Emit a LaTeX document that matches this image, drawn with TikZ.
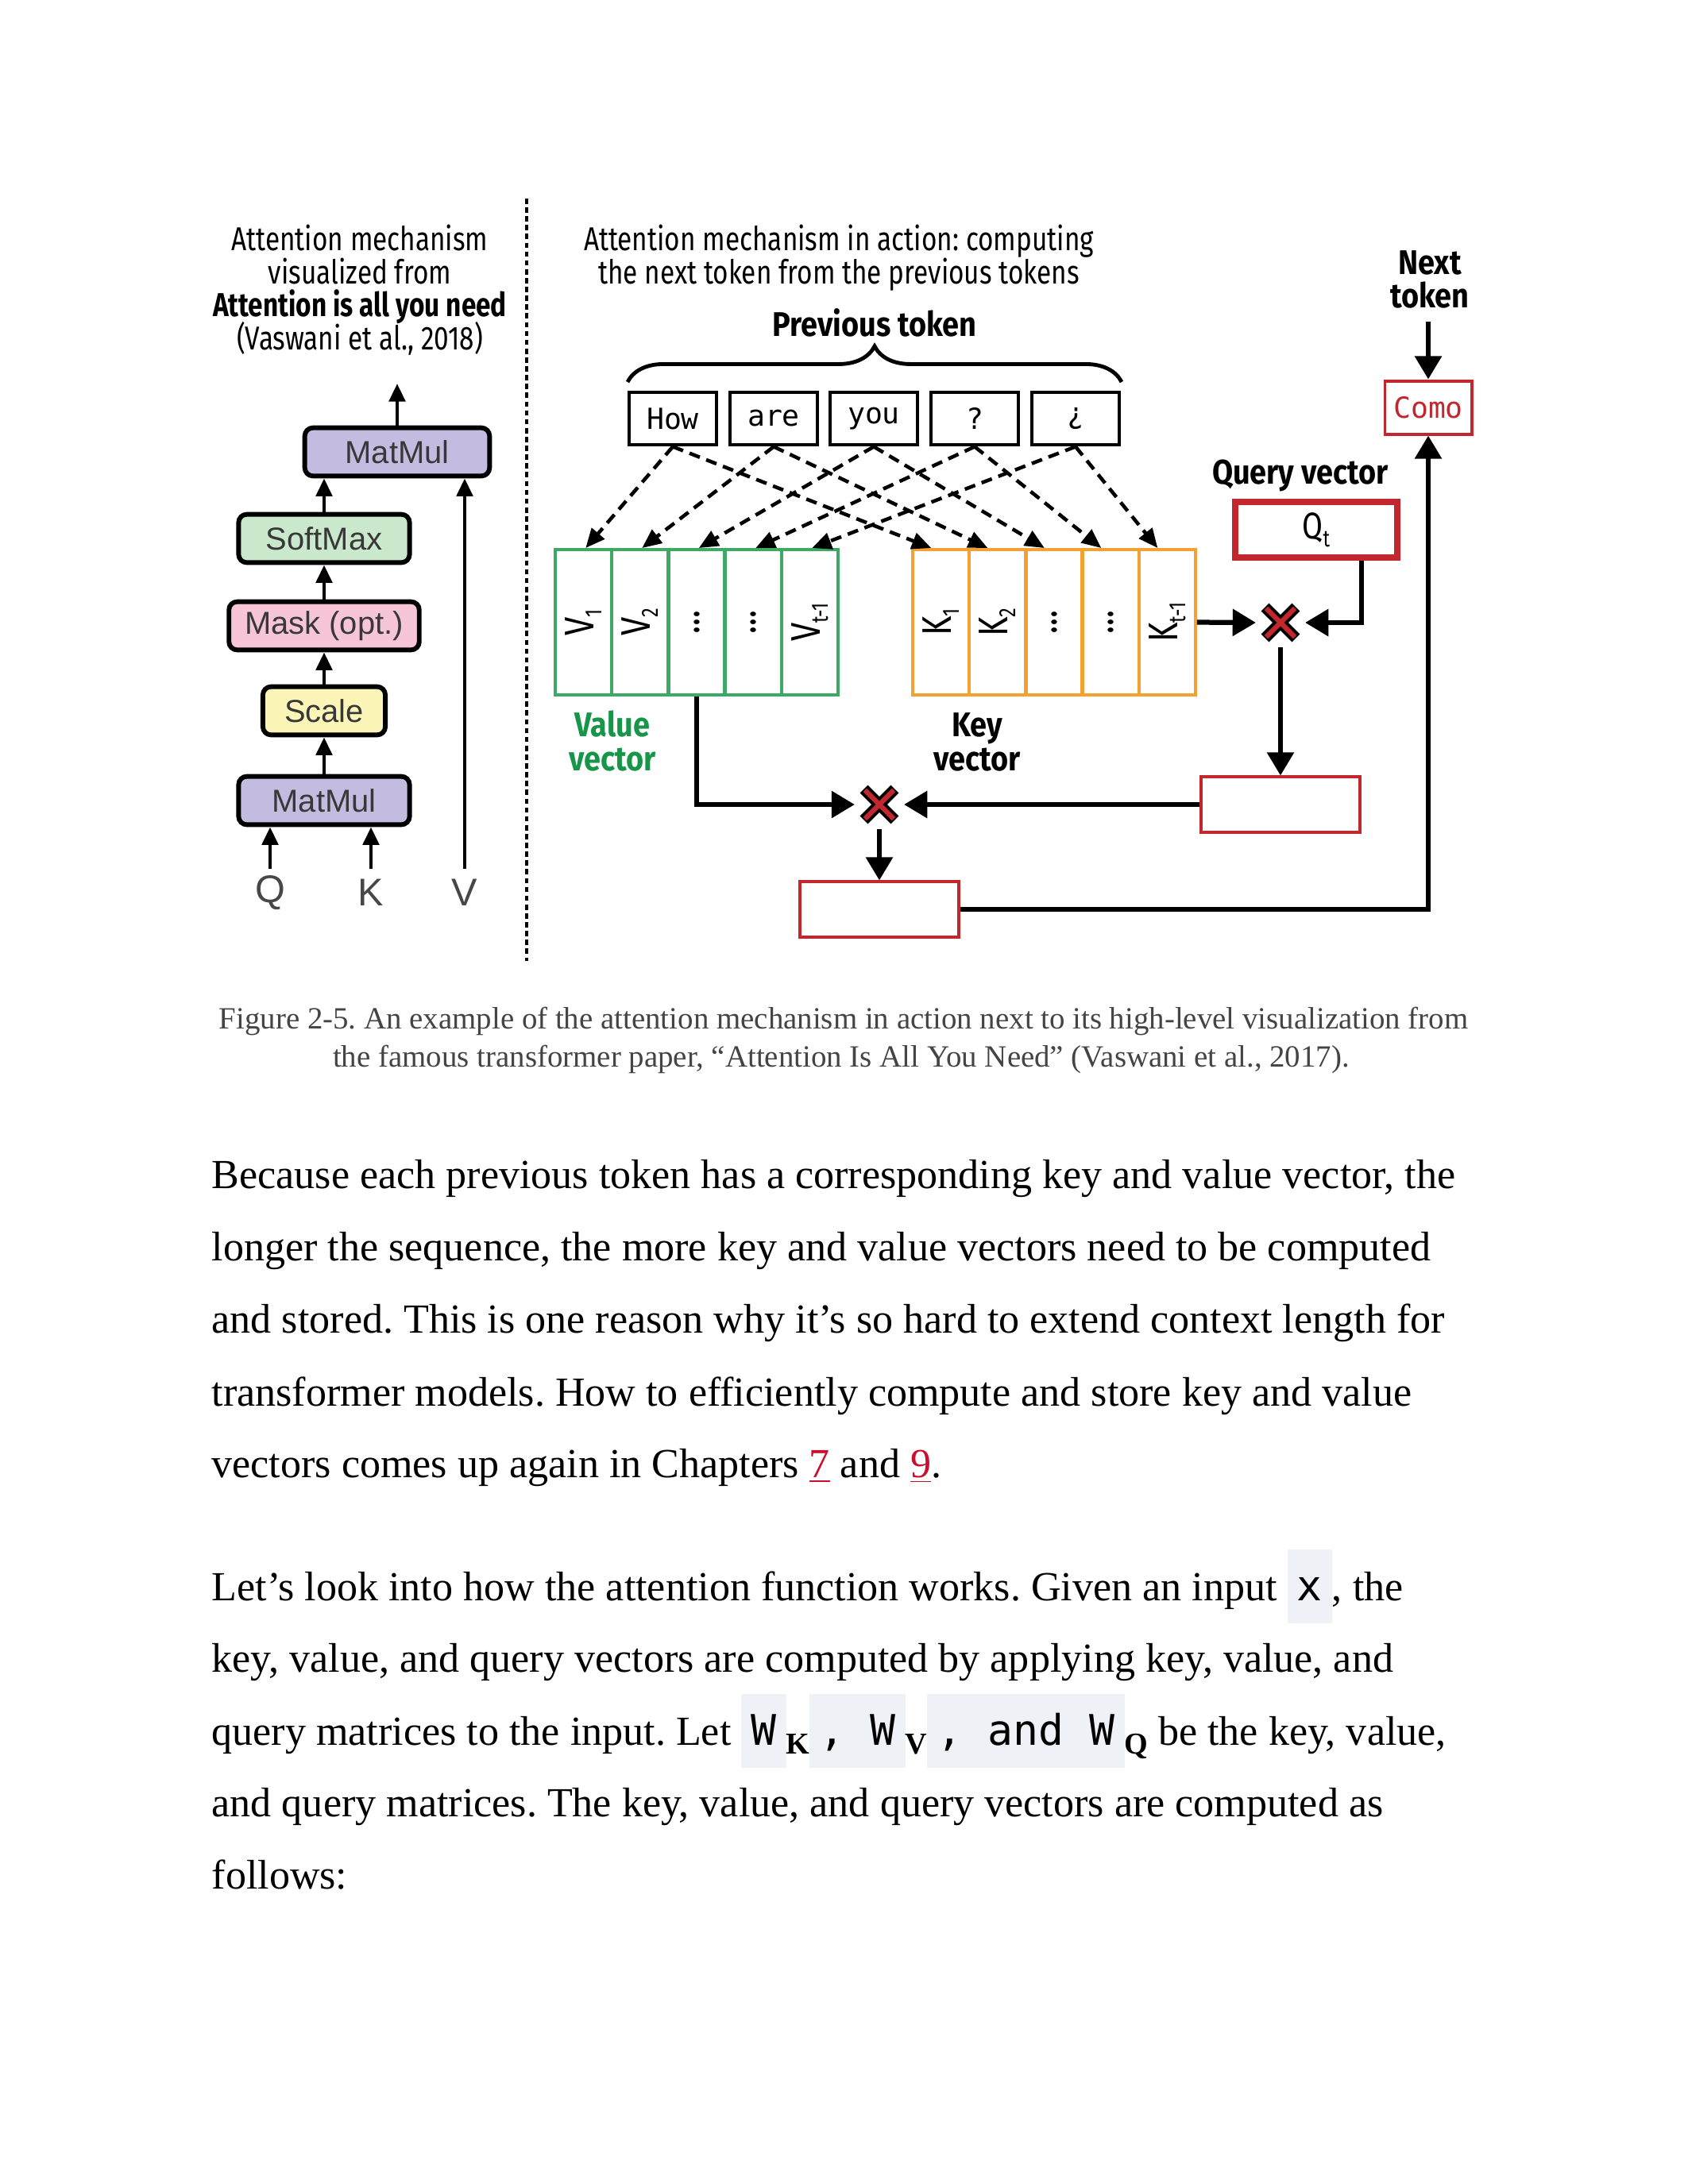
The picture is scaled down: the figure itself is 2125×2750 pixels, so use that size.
\documentclass[tikz,border=0pt]{standalone}
\usepackage{fontspec}
\setmainfont{Liberation Serif}
\newfontfamily\cond{Fira Sans}[FakeStretch=0.8]
\newfontfamily\condB{Fira Sans}[FakeStretch=0.88]
\newfontfamily\helv{Liberation Sans}
\newfontfamily\mono{DejaVu Sans Mono}
\usetikzlibrary{arrows.meta,decorations.pathreplacing,calc}
\frenchspacing
\definecolor{redc}{HTML}{C1272D}
\definecolor{greenc}{HTML}{3CA964}
\definecolor{greent}{HTML}{17964A}
\definecolor{orangec}{HTML}{F5A033}
\definecolor{lav}{HTML}{C4BCE0}
\definecolor{mint}{HTML}{C9E8CC}
\definecolor{pinkc}{HTML}{F6C5D8}
\definecolor{yel}{HTML}{FBF5B8}
\definecolor{codebg}{HTML}{EEF1F5}
\definecolor{linkred}{HTML}{C8102E}
\definecolor{capgray}{HTML}{444444}
\newcommand{\cbox}[1]{{\setlength{\fboxsep}{0pt}\colorbox{codebg}{\rule[-8.3pt]{0pt}{26.7pt}\hspace{3.5pt}{\mono\fontsize{15.3}{18}\selectfont #1}\hspace{3.5pt}}}}
\newcommand{\sbx}[1]{\raisebox{-3.2pt}{\bfseries\fontsize{11}{11}\selectfont #1}}
\newcommand{\csub}[1]{\raisebox{-3pt}{\fontsize{8.5}{8.5}\selectfont #1}}
\newcommand{\lnk}[1]{\textcolor{linkred}{\underline{#1}}}
\tikzset{
 lbox/.style={draw=black, line width=1.7pt, rounded corners=3pt, inner sep=0pt, minimum height=17.5pt, font=\helv\fontsize{11.5}{12}\selectfont, text=black!78},
 larrow/.style={line width=1.4pt, -{Triangle[length=6.5pt,width=5.8pt]}},
 ttl/.style={font=\cond\fontsize{12}{12}\selectfont, anchor=base, inner sep=0pt},
 blab/.style={font=\condB\bfseries\fontsize{12.4}{12.4}\selectfont, anchor=base, inner sep=0pt},
 qkv/.style={font=\helv\fontsize{14}{14}\selectfont, text=black!72, inner sep=0pt},
 tok/.style={draw=black, line width=1.2pt, minimum width=31.6pt, minimum height=19.2pt, inner sep=0pt, font=\mono\fontsize{10.5}{10.5}\selectfont},
 vcell/.style={draw=greenc, line width=1.15pt, minimum width=20.4pt, minimum height=52.7pt, inner sep=0pt},
 kcell/.style={draw=orangec, line width=1.15pt, minimum width=20.4pt, minimum height=52.7pt, inner sep=0pt},
 celltxt/.style={rotate=90, font=\cond\fontsize{15}{15}\selectfont, inner sep=0pt},
 dashar/.style={line width=1.3pt, dash pattern=on 4pt off 2.5pt, -{Triangle[length=7pt,width=6pt]}},
 conn/.style={line width=1.8pt, -{Triangle[length=8.4pt,width=9.5pt]}},
 rbox/.style={draw=redc, line width=1.15pt, minimum width=57.6pt, minimum height=19.9pt, inner sep=0pt},
 xmark/.style={minimum size=17.5pt, inner sep=0pt},
 xblack/.style={line width=4pt},
 xred/.style={line width=1.8pt, draw=redc},
 bodytxt/.style={anchor=base west, inner sep=0pt, font=\fontsize{15}{15}\selectfont},
 captxt/.style={anchor=base, inner sep=0pt, font=\fontsize{11.2}{11.2}\selectfont, text=capgray},
}
\begin{document}
\begin{tikzpicture}[x=0.288pt,y=-0.288pt]
\useasboundingbox (0,0) rectangle (2125,2750);
\fill[white] (0,0) rectangle (2125,2750);

% ---------- left panel ----------
\node[ttl] (lt1) at (453,315) {Attention mechanism};
\node[ttl] (lt2) at (453,357) {visualized from};
\node[ttl, font=\cond\bfseries\fontsize{12}{12}\selectfont] (lt3) at (453,398) {Attention is all you need};
\node[ttl] (lt4) at (453,440) {(Vaswani et al., 2018)};

\node[lbox, fill=lav, minimum width=67pt] (mm2) at (500,569) {MatMul};
\node[lbox, fill=mint, minimum width=62pt] (soft) at (408,678) {SoftMax};
\node[lbox, fill=pinkc, minimum width=69pt] (mask) at (408,788) {Mask (opt.)};
\node[lbox, fill=yel, minimum width=44.4pt] (scl) at (408,895) {Scale};
\node[lbox, fill=lav, minimum width=62pt] (mm1) at (408,1008) {MatMul};

\draw[larrow] (mm1.north) -- (scl.south);
\draw[larrow] (scl.north) -- (mask.south);
\draw[larrow] (mask.north) -- (soft.south);
\draw[larrow] (soft.north) -- (soft.north |- mm2.south);
\coordinate (topout) at (500,483);
\draw[larrow] (mm2.north) -- (topout);

\node[qkv] (lq) at (340,1124) {Q};
\node[qkv] (lk) at (467,1124) {K};
\node[qkv] (lv) at (585,1124) {V};
\coordinate (qs) at (340,1094);
\coordinate (ks) at (467,1094);
\coordinate (vs) at (585,1094);
\draw[larrow] (qs) -- (qs |- mm1.south);
\draw[larrow] (ks) -- (ks |- mm1.south);
\draw[larrow] (vs) -- (vs |- mm2.south);

\coordinate (dt) at (663,250);
\coordinate (db) at (663,1210);
\draw[line width=1pt, dash pattern=on 1.9pt off 1.3pt] (dt) -- (db);

% ---------- right panel ----------
\node[ttl] (rt1) at (1056,315) {Attention mechanism in action: computing};
\node[ttl] (rt2) at (1056,357) {the next token from the previous tokens};
\node[blab] (prev) at (1101,423) {Previous token};
\node[blab] (next1) at (1800,345) {Next};
\node[blab] (next2) at (1800,387) {token};
\node[blab] (qlab) at (1637,609) {Query vector};
\node[blab, text=greent] (val1) at (771,927) {Value};
\node[blab, text=greent] (val2) at (771,970) {vector};
\node[blab] (key1) at (1230,927) {Key};
\node[blab] (key2) at (1230,970) {vector};

\coordinate (bl) at (790,481);
\coordinate (br) at (1412,481);
\draw[line width=1.4pt, decorate, decoration={brace, amplitude=13pt}] (bl) -- (br);

\node[tok] (t1) at (847,527) {How};
\node[tok] (t2) at (974,527) {are};
\node[tok] (t3) at (1100,527) {you};
\node[tok] (t4) at (1227,527) {?};
\node[tok] (t5) at (1354,527) {¿};

\node[vcell] (v1) at (734.5,783.5) {};
\node[vcell] (v2) at (805.5,783.5) {};
\node[vcell] (v3) at (877,783.5) {};
\node[vcell] (v4) at (948.5,783.5) {};
\node[vcell] (v5) at (1019.5,783.5) {};
\node[kcell] (k1) at (1184.5,783.5) {};
\node[kcell] (k2) at (1255.5,783.5) {};
\node[kcell] (k3) at (1327,783.5) {};
\node[kcell] (k4) at (1398.5,783.5) {};
\node[kcell] (k5) at (1469.5,783.5) {};

\node[celltxt] (lv1) at (v1) {V\csub{1}};
\node[celltxt] (lv2) at (v2) {V\csub{2}};
\node[celltxt] (lv3) at (v3) {...};
\node[celltxt] (lv4) at (v4) {...};
\node[celltxt] (lv5) at (v5) {V\csub{t-1}};
\node[celltxt] (lk1) at (k1) {K\csub{1}};
\node[celltxt] (lk2) at (k2) {K\csub{2}};
\node[celltxt] (lk3) at (k3) {...};
\node[celltxt] (lk4) at (k4) {...};
\node[celltxt] (lk5) at (k5) {K\csub{t-1}};

\foreach \i in {1,...,5}{
  \draw[dashar] (t\i.south) -- ([xshift=0.8pt]v\i.north);
  \draw[dashar] (t\i.south) -- ([xshift=-3.5pt]k\i.north);
}

\node[draw=redc, line width=2.3pt, minimum width=58.5pt, minimum height=19.9pt, inner sep=0pt, font=\cond\fontsize{13.5}{13.5}\selectfont] (qt) at (1657,667) {Q\csub{t}};
\node[draw=redc, line width=1.15pt, minimum width=31.4pt, minimum height=19.3pt, inner sep=0pt, text=redc, font=\mono\fontsize{10.5}{10.5}\selectfont] (como) at (1798,513) {Como};

\node[xmark] (x1) at (1612,784) {};
\node[xmark] (x2) at (1107,1013) {};
\foreach \n in {x1,x2}{
  \draw[xblack] ([shift={(-5.6pt,-5.6pt)}]\n.center) -- ([shift={(5.6pt,5.6pt)}]\n.center);
  \draw[xblack] ([shift={(-5.6pt,5.6pt)}]\n.center) -- ([shift={(5.6pt,-5.6pt)}]\n.center);
  \draw[xred] ([shift={(-5.2pt,-5.2pt)}]\n.center) -- ([shift={(5.2pt,5.2pt)}]\n.center);
  \draw[xred] ([shift={(-5.2pt,5.2pt)}]\n.center) -- ([shift={(5.2pt,-5.2pt)}]\n.center);
}

\node[rbox] (r1) at (1612,1013) {};
\node[rbox] (r2) at (1107,1145) {};

\draw[conn] (k5.east) -- (x1.west);
\draw[conn] ([xshift=16.4pt]qt.south) |- (x1.east);
\draw[conn] (x1.south) -- (r1.north);
\draw[conn] (r1.west) -- (x2.east);
\draw[conn] (v3.south) |- (x2.west);
\draw[conn] (x2.south) -- (r2.north);
\draw[conn] (r2.east) -| (como.south);
\coordinate (ntc) at (1798,405);
\draw[conn] (ntc) -- (como.north);

% ---------- caption ----------
\node[captxt] (c1) at (1062,1295) {Figure 2-5. An example of the attention mechanism in action next to its high-level visualization from};
\node[captxt] (c2) at (1059,1343) {the famous transformer paper, “Attention Is All You Need” (Vaswani et al., 2017).};

% ---------- body ----------
\node[bodytxt] (b1) at (266,1496) {Because each previous token has a corresponding key and value vector, the};
\node[bodytxt] (b2) at (266,1587) {longer the sequence, the more key and value vectors need to be computed};
\node[bodytxt] (b3) at (266,1678) {and stored. This is one reason why it’s so hard to extend context length for};
\node[bodytxt] (b4) at (266,1770) {transformer models. How to efficiently compute and store key and value};
\node[bodytxt] (b5) at (266,1860) {vectors comes up again in Chapters \lnk{7} and \lnk{9}.};
\node[bodytxt] (b6) at (266,2015) {Let’s look into how the attention function works. Given an input \cbox{x}, the};
\node[bodytxt] (b7) at (266,2105) {key, value, and query vectors are computed by applying key, value, and};
\node[bodytxt] (b8) at (266,2197) {query matrices to the input. Let \cbox{W}\sbx{K}\cbox{, W}\sbx{V}\cbox{, and W}\sbx{Q} be the key, value,};
\node[bodytxt] (b9) at (266,2287) {and query matrices. The key, value, and query vectors are computed as};
\node[bodytxt] (b10) at (266,2378) {follows:};
\end{tikzpicture}
\end{document}
